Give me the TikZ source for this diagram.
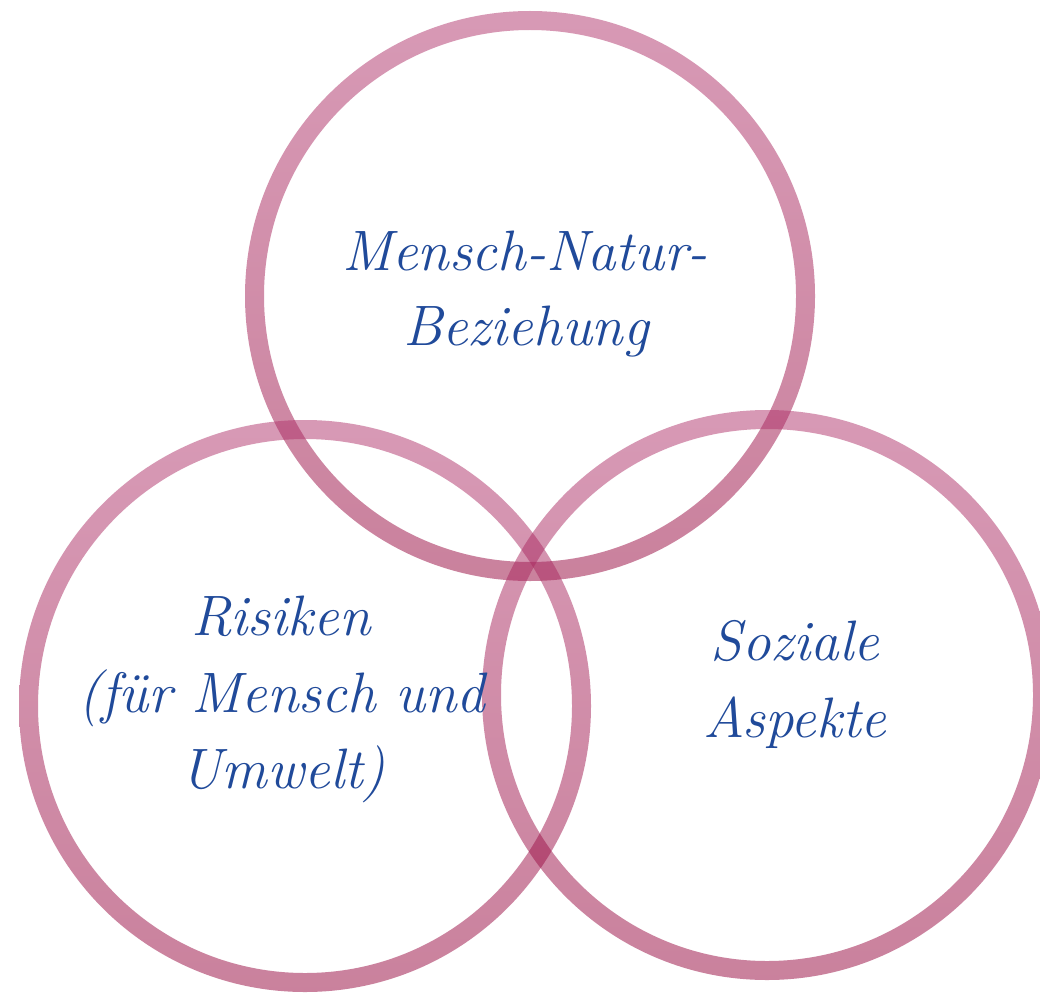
\documentclass[tikz,border=0pt]{standalone}
\usepackage{fontspec}
\definecolor{ringtop}{RGB}{177,53,109}
\definecolor{ringbot}{RGB}{150,5,60}
\definecolor{txtblue}{RGB}{32,74,154}
\tikzset{
  ring/.style={top color=ringtop, bottom color=ringbot, even odd rule, fill opacity=0.5, draw=none},
  lbl/.style={text=txtblue, align=center, inner sep=0pt, anchor=base,
    font=\fontsize{57}{76}\selectfont\itshape\addfontfeatures{FakeBold=1.2}}
}
\begin{document}
\begin{tikzpicture}[x=1pt,y=-1pt]
\useasboundingbox (0,0) rectangle (1040,995);
\fill[white] (0,0) rectangle (1040,995);
\coordinate (ctop) at (530,296);
\coordinate (cleft) at (305,706);
\coordinate (cright) at (767,695);
\shade[ring] (ctop) circle[radius=285pt] (ctop) circle[radius=266pt];
\shade[ring] (cleft) circle[radius=286pt] (cleft) circle[radius=267pt];
\shade[ring] (cright) circle[radius=285pt] (cright) circle[radius=266pt];
\node[lbl] (t1) at (525,270) {Mensch-Natur-};
\node[lbl] (t2) at (526,345) {Beziehung};
\node[lbl] (l1) at (281,635) {Risiken};
\node[lbl] (l2) at (282,712) {(für Mensch und};
\node[lbl] (l3) at (283,788) {Umwelt)};
\node[lbl] (r1) at (795,660) {Soziale};
\node[lbl] (r2) at (795,737) {Aspekte};
\end{tikzpicture}
\end{document}
